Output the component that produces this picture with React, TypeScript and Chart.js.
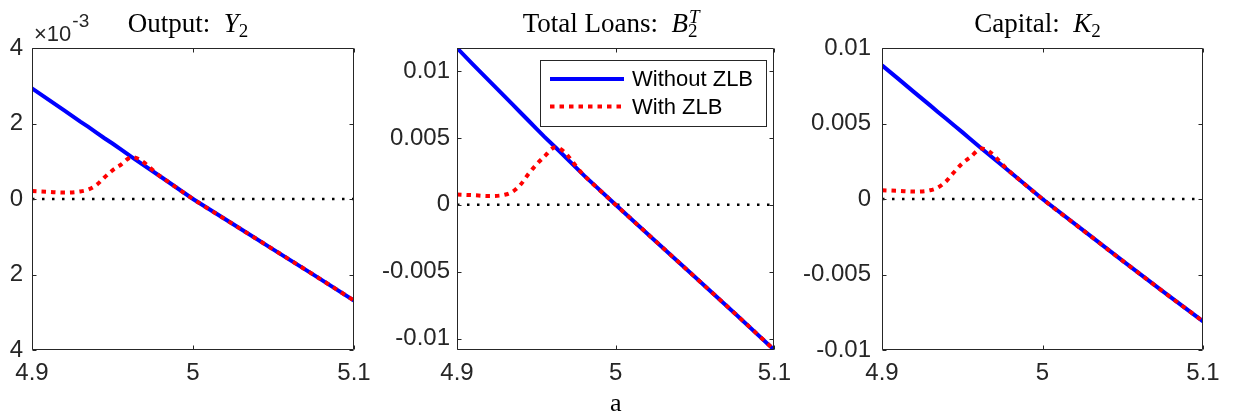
import React, { useEffect, useRef } from "react";
import { Chart, registerables } from "chart.js";

Chart.register(...registerables);

// ---------- data ----------
const A_GRID = [4.9, 4.91, 4.92, 4.93, 4.935, 4.94, 4.945, 4.95, 4.955, 4.962, 4.98, 5.0, 5.025, 5.05, 5.075, 5.1];

const OUTPUT_WITHOUT_ZLB = [0.00293, 0.00264, 0.00235, 0.00205, 0.00191, 0.00176, 0.00161, 0.00147, 0.00132, 0.00111, 0.00059, 0, -0.00067, -0.00134, -0.00201, -0.00269];
const OUTPUT_WITH_ZLB = [0.00021, 0.00019, 0.00017, 0.0002, 0.00025, 0.00037, 0.00057, 0.00076, 0.0009, 0.00111, 0.00059, 0, -0.00067, -0.00134, -0.00201, -0.00269];

const LOANS_WITHOUT_ZLB = [0.01172, 0.0105, 0.0093, 0.0081, 0.0075, 0.0069, 0.0063, 0.0057, 0.0051, 0.0043, 0.0022, 0, -0.0027, -0.0054, -0.0081, -0.01085];
const LOANS_WITH_ZLB = [0.00077, 0.00072, 0.00066, 0.00075, 0.00098, 0.0015, 0.0023, 0.003, 0.0036, 0.0043, 0.0022, 0, -0.0027, -0.0054, -0.0081, -0.01085];

const CAPITAL_WITHOUT_ZLB = [0.00885, 0.00797, 0.00708, 0.0062, 0.00575, 0.00531, 0.00487, 0.00443, 0.00398, 0.00334, 0.00177, 0, -0.00205, -0.0041, -0.00612, -0.0081];
const CAPITAL_WITH_ZLB = [0.00058, 0.00054, 0.00049, 0.00058, 0.00077, 0.00118, 0.00179, 0.00236, 0.00276, 0.00334, 0.00177, 0, -0.00205, -0.0041, -0.00612, -0.0081];

const ZERO_LINE_X = [4.9, 5.1];
const ZERO_LINE_Y = [0, 0];

const X_TICKS = [4.9, 5.0, 5.1];
const X_TICK_LABELS = ["4.9", "5", "5.1"];
const X_AXIS_LABEL = "a";

const OUTPUT_Y_TICKS = [-0.004, -0.002, 0, 0.002, 0.004];
const OUTPUT_Y_TICK_LABELS = ["4", "2", "0", "2", "4"];
const LOANS_Y_TICKS = [-0.01, -0.005, 0, 0.005, 0.01];
const LOANS_Y_TICK_LABELS = ["-0.01", "-0.005", "0", "0.005", "0.01"];
const CAPITAL_Y_TICKS = [-0.01, -0.005, 0, 0.005, 0.01];
const CAPITAL_Y_TICK_LABELS = ["-0.01", "-0.005", "0", "0.005", "0.01"];

const LEGEND_LABELS = ["Without ZLB", "With ZLB"];
const EXPONENT_BASE = "\u00d710";
const EXPONENT_POWER = "-3";

// ---------- styling ----------
const AXIS_COLOR = "#262626";
const SANS = '"Liberation Sans", Arial, Helvetica, sans-serif';
const SERIF = '"Liberation Serif", "Times New Roman", serif';
const H = 418;
const TICK_FONT = 24;

type TitlePart = { text: string; italic?: boolean; size: number; dy: number; stackWith?: { text: string; italic?: boolean; size: number; dy: number } };

type Panel = {
  key: string;
  canvasLeft: number;
  canvasWidth: number;
  axisWidth: number;
  rightPad: number;
  labelGap: number;
  yMin: number;
  yMax: number;
  yTicks: number[];
  yLabels: string[];
  without: number[];
  withZ: number[];
  title: TitlePart[];
  exponent: boolean;
  legend: boolean;
  xTitle: boolean;
};

const PANELS: Panel[] = [
  {
    key: "output",
    canvasLeft: 0,
    canvasWidth: 380,
    axisWidth: 32,
    rightPad: 26,
    labelGap: 9,
    yMin: -0.004,
    yMax: 0.004,
    yTicks: OUTPUT_Y_TICKS,
    yLabels: OUTPUT_Y_TICK_LABELS,
    without: OUTPUT_WITHOUT_ZLB,
    withZ: OUTPUT_WITH_ZLB,
    title: [
      { text: "Output:  ", size: 27, dy: 0 },
      { text: "Y", italic: true, size: 27, dy: 0 },
      { text: "2", size: 19, dy: 5 },
    ],
    exponent: true,
    legend: false,
    xTitle: false,
  },
  {
    key: "loans",
    canvasLeft: 370,
    canvasWidth: 430,
    axisWidth: 87,
    rightPad: 22,
    labelGap: 7,
    yMin: -0.01085,
    yMax: 0.01172,
    yTicks: LOANS_Y_TICKS,
    yLabels: LOANS_Y_TICK_LABELS,
    without: LOANS_WITHOUT_ZLB,
    withZ: LOANS_WITH_ZLB,
    title: [
      { text: "Total Loans:  ", size: 27, dy: 0 },
      { text: "B", italic: true, size: 27, dy: 0 },
      { text: "2", size: 19, dy: 5, stackWith: { text: "T", italic: true, size: 19, dy: -9 } },
    ],
    exponent: false,
    legend: true,
    xTitle: true,
  },
  {
    key: "capital",
    canvasLeft: 790,
    canvasWidth: 443,
    axisWidth: 92,
    rightPad: 30,
    labelGap: 11,
    yMin: -0.01,
    yMax: 0.01,
    yTicks: CAPITAL_Y_TICKS,
    yLabels: CAPITAL_Y_TICK_LABELS,
    without: CAPITAL_WITHOUT_ZLB,
    withZ: CAPITAL_WITH_ZLB,
    title: [
      { text: "Capital:  ", size: 27, dy: 0 },
      { text: "K", italic: true, size: 27, dy: 0 },
      { text: "2", size: 19, dy: 5 },
    ],
    exponent: false,
    legend: false,
    xTitle: false,
  },
];

function serifFont(size: number, italic?: boolean) {
  return `${italic ? "italic " : ""}${size}px ${SERIF}`;
}

function makeDecorPlugin(p: Panel) {
  return {
    id: "decor_" + p.key,
    afterDraw(chart: any) {
      const { ctx, chartArea, scales } = chart;
      const { left, right, top, bottom } = chartArea;
      const xs = scales.x;
      const ys = scales.y;
      ctx.save();
      // box
      ctx.strokeStyle = AXIS_COLOR;
      ctx.lineWidth = 1;
      ctx.beginPath();
      const L = Math.round(left) + 0.5;
      const R = Math.round(right) - 0.5;
      const T = Math.round(top) + 0.5;
      const B = Math.round(bottom) - 0.5;
      ctx.rect(L, T, R - L, B - T);
      // inward ticks
      const tl = 4;
      X_TICKS.forEach((v) => {
        const px = Math.round(xs.getPixelForValue(v)) + 0.5;
        ctx.moveTo(px, B);
        ctx.lineTo(px, B - tl);
        ctx.moveTo(px, T);
        ctx.lineTo(px, T + tl);
      });
      p.yTicks.forEach((v) => {
        const py = Math.round(ys.getPixelForValue(v)) + 0.5;
        ctx.moveTo(L, py);
        ctx.lineTo(L + tl, py);
        ctx.moveTo(R, py);
        ctx.lineTo(R - tl, py);
      });
      ctx.stroke();

      // title
      const cx = (left + right) / 2 - 5;
      const baseline = 32;
      let total = 0;
      const widths: number[] = [];
      p.title.forEach((part) => {
        ctx.font = serifFont(part.size, part.italic);
        let w = ctx.measureText(part.text).width;
        if (part.stackWith) {
          ctx.font = serifFont(part.stackWith.size, part.stackWith.italic);
          w = Math.max(w, ctx.measureText(part.stackWith.text).width);
        }
        widths.push(w);
        total += w;
      });
      let x = cx - total / 2;
      ctx.fillStyle = "#000000";
      ctx.textAlign = "left";
      ctx.textBaseline = "alphabetic";
      p.title.forEach((part, i) => {
        ctx.font = serifFont(part.size, part.italic);
        ctx.fillText(part.text, x, baseline + part.dy);
        if (part.stackWith) {
          ctx.font = serifFont(part.stackWith.size, part.stackWith.italic);
          ctx.fillText(part.stackWith.text, x + 1, baseline + part.stackWith.dy);
        }
        x += widths[i];
      });

      // exponent
      if (p.exponent) {
        ctx.fillStyle = AXIS_COLOR;
        ctx.font = `22px ${SANS}`;
        const ex = left + 2;
        ctx.fillText(EXPONENT_BASE, ex, 41);
        const bw = ctx.measureText(EXPONENT_BASE).width;
        ctx.font = `19px ${SANS}`;
        ctx.fillText(EXPONENT_POWER, ex + bw + 1, 27);
      }

      // legend
      if (p.legend) {
        const lx = left + 83;
        const ly = top + 12;
        const lw = 226;
        const lh = 66;
        ctx.fillStyle = "#ffffff";
        ctx.fillRect(lx, ly, lw, lh);
        ctx.strokeStyle = AXIS_COLOR;
        ctx.lineWidth = 1;
        ctx.strokeRect(Math.round(lx) + 0.5, Math.round(ly) + 0.5, lw, lh);
        const rows = [ly + 19, ly + 46.5];
        ctx.lineWidth = 4;
        ctx.setLineDash([]);
        ctx.strokeStyle = "#0000ff";
        ctx.beginPath();
        ctx.moveTo(lx + 10, rows[0]);
        ctx.lineTo(lx + 84, rows[0]);
        ctx.stroke();
        ctx.strokeStyle = "#ff0000";
        ctx.setLineDash([4.5, 5]);
        ctx.beginPath();
        ctx.moveTo(lx + 10, rows[1]);
        ctx.lineTo(lx + 84, rows[1]);
        ctx.stroke();
        ctx.setLineDash([]);
        ctx.fillStyle = "#000000";
        ctx.font = `22px ${SANS}`;
        ctx.textBaseline = "middle";
        ctx.fillText(LEGEND_LABELS[0], lx + 92, rows[0] + 1);
        ctx.fillText(LEGEND_LABELS[1], lx + 92, rows[1] + 1);
      }
      ctx.restore();
    },
  };
}

function toPoints(xs: number[], ys: number[]) {
  return xs.map((x, i) => ({ x, y: ys[i] }));
}

function PanelChart({ p }: { p: Panel }) {
  const ref = useRef<HTMLCanvasElement | null>(null);
  useEffect(() => {
    if (!ref.current) return;
    const chart = new Chart(ref.current, {
      type: "line",
      data: {
        datasets: [
          {
            label: LEGEND_LABELS[1],
            data: toPoints(A_GRID, p.withZ),
            borderColor: "#ff0000",
            borderWidth: 4,
            borderDash: [4.5, 5],
            borderCapStyle: "butt",
            pointRadius: 0,
            cubicInterpolationMode: "monotone",
            fill: false,
          },
          {
            label: LEGEND_LABELS[0],
            data: toPoints(A_GRID, p.without),
            borderColor: "#0000ff",
            borderWidth: 4,
            pointRadius: 0,
            tension: 0,
            fill: false,
          },
          {
            label: "zero",
            data: toPoints(ZERO_LINE_X, ZERO_LINE_Y),
            borderColor: "#000000",
            borderWidth: 2.5,
            borderDash: [2.5, 7.5],
            pointRadius: 0,
            fill: false,
          },
        ],
      } as any,
      options: {
        responsive: false,
        animation: false,
        devicePixelRatio: 1,
        events: [],
        layout: { padding: { top: 48, right: p.rightPad, left: 0, bottom: 0 } },
        plugins: {
          legend: { display: false },
          tooltip: { enabled: false },
          title: { display: false },
        },
        scales: {
          x: {
            type: "linear",
            min: 4.9,
            max: 5.1,
            grid: { display: false, drawTicks: false },
            border: { display: false },
            afterBuildTicks: (s: any) => {
              s.ticks = X_TICKS.map((v) => ({ value: v }));
            },
            afterFit: (s: any) => {
              s.height = 68;
            },
            ticks: {
              autoSkip: false,
              maxRotation: 0,
              minRotation: 0,
              padding: 9,
              color: AXIS_COLOR,
              font: { family: SANS, size: TICK_FONT },
              callback: (_v: any, i: number) => X_TICK_LABELS[i],
            },
            title: p.xTitle
              ? {
                  display: true,
                  text: X_AXIS_LABEL,
                  color: "#000000",
                  font: { family: SERIF, size: 26 },
                  padding: { top: 0, bottom: -2 },
                }
              : { display: false },
          },
          y: {
            type: "linear",
            min: p.yMin,
            max: p.yMax,
            grid: { display: false, drawTicks: false },
            border: { display: false },
            afterBuildTicks: (s: any) => {
              s.ticks = p.yTicks.map((v) => ({ value: v }));
            },
            afterFit: (s: any) => {
              s.width = p.axisWidth;
            },
            ticks: {
              autoSkip: false,
              padding: p.labelGap,
              color: AXIS_COLOR,
              font: { family: SANS, size: TICK_FONT },
              callback: (_v: any, i: number) => p.yLabels[i],
            },
          },
        },
      } as any,
      plugins: [makeDecorPlugin(p)],
    });
    return () => chart.destroy();
  }, []);
  return (
    <canvas
      ref={ref}
      width={p.canvasWidth}
      height={H}
      style={{ position: "absolute", left: p.canvasLeft, top: 0, width: p.canvasWidth, height: H }}
    />
  );
}

export default function App() {
  return (
    <div style={{ position: "absolute", left: 0, top: 0, width: 1233, height: H, background: "#ffffff", overflow: "hidden" }}>
      {PANELS.map((p) => (
        <PanelChart key={p.key} p={p} />
      ))}
    </div>
  );
}
